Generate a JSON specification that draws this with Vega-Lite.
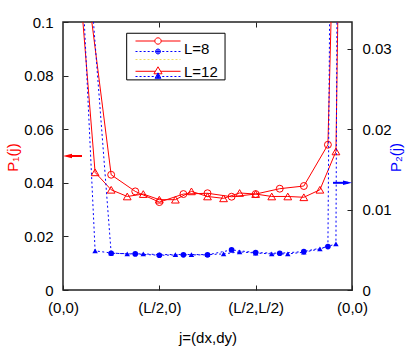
{
  "$schema": "https://vega.github.io/schema/vega-lite/v6.json",
  "width": 289,
  "height": 268,
  "autosize": {"type": "none"},
  "padding": {"left": 63, "top": 22, "right": 63, "bottom": 56},
  "background": "white",
  "config": {
    "view": {"stroke": "#222222", "strokeWidth": 1.5},
    "font": "Liberation Sans",
    "axis": {
      "labelFont": "Liberation Sans", "labelFontSize": 15, "labelColor": "black",
      "titleFont": "Liberation Sans", "titleFontSize": 15, "titleFontWeight": "normal",
      "domain": false, "grid": false, "tickColor": "#222222", "tickSize": 5, "tickWidth": 1, "offset": -5,
      "labelOverlap": false, "labelFlush": false, "labelBound": false
    },
    "legend": {
      "orient": "none", "symbolSize": 2025, "symbolStrokeWidth": 1, "clipHeight": 16,
      "labelFont": "Liberation Sans", "labelFontSize": 15, "labelColor": "black", "labelOffset": 3,
      "padding": 0, "symbolOpacity": 1
    }
  },
  "datasets": {
    "d": [
      {"L": "8", "x": 0, "p1": 0.41, "p2": 0.41},
      {"L": "8", "x": 0.25, "p1": 0.114, "p2": 0.0437},
      {"L": "8", "x": 0.5, "p1": 0.043, "p2": 0.00457},
      {"L": "8", "x": 0.75, "p1": 0.0368, "p2": 0.00449},
      {"L": "8", "x": 1.0, "p1": 0.0328, "p2": 0.00432},
      {"L": "8", "x": 1.25, "p1": 0.0358, "p2": 0.00437},
      {"L": "8", "x": 1.5, "p1": 0.0361, "p2": 0.00437},
      {"L": "8", "x": 1.75, "p1": 0.0348, "p2": 0.00499},
      {"L": "8", "x": 2.0, "p1": 0.0358, "p2": 0.00465},
      {"L": "8", "x": 2.25, "p1": 0.0378, "p2": 0.00457},
      {"L": "8", "x": 2.5, "p1": 0.0388, "p2": 0.00478},
      {"L": "8", "x": 2.75, "p1": 0.0542, "p2": 0.0054},
      {"L": "8", "x": 3.0, "p1": 0.41, "p2": 0.41},
      {"L": "12", "x": 0, "p1": 0.48, "p2": 0.45},
      {"L": "12", "x": 0.1667, "p1": 0.1178, "p2": 0.0472},
      {"L": "12", "x": 0.3333, "p1": 0.0439, "p2": 0.00487},
      {"L": "12", "x": 0.5, "p1": 0.0374, "p2": 0.0046},
      {"L": "12", "x": 0.6667, "p1": 0.0349, "p2": 0.00449},
      {"L": "12", "x": 0.8333, "p1": 0.0358, "p2": 0.00449},
      {"L": "12", "x": 1.0, "p1": 0.0337, "p2": 0.0044},
      {"L": "12", "x": 1.1667, "p1": 0.0337, "p2": 0.00441},
      {"L": "12", "x": 1.3333, "p1": 0.0368, "p2": 0.00441},
      {"L": "12", "x": 1.5, "p1": 0.0349, "p2": 0.0044},
      {"L": "12", "x": 1.6667, "p1": 0.0342, "p2": 0.00449},
      {"L": "12", "x": 1.8333, "p1": 0.0362, "p2": 0.00474},
      {"L": "12", "x": 2.0, "p1": 0.0358, "p2": 0.0046},
      {"L": "12", "x": 2.1667, "p1": 0.0349, "p2": 0.00449},
      {"L": "12", "x": 2.3333, "p1": 0.0349, "p2": 0.00449},
      {"L": "12", "x": 2.5, "p1": 0.0346, "p2": 0.0047},
      {"L": "12", "x": 2.6667, "p1": 0.0374, "p2": 0.00511},
      {"L": "12", "x": 2.8333, "p1": 0.0517, "p2": 0.00573},
      {"L": "12", "x": 3.0, "p1": 0.48, "p2": 0.45}
    ]
  },
  "data": {"name": "d"},
  "layer": [
    {
      "encoding": {
        "x": {
          "field": "x", "type": "quantitative",
          "scale": {"domain": [0, 3], "nice": false, "zero": false},
          "axis": {
            "values": [0, 1, 2, 3],
            "labelExpr": "datum.value == 0 || datum.value == 3 ? '(0,0)' : (datum.value == 1 ? '(L/2,0)' : '(L/2,L/2)')",
            "labelBaseline": "middle", "labelPadding": 17,
            "title": "j=(dx,dy)", "titleY": 52, "titleBaseline": "middle"
          }
        },
        "y": {
          "field": "p1", "type": "quantitative",
          "scale": {"domain": [0, 0.1], "nice": false, "zero": false},
          "axis": {
            "values": [0, 0.02, 0.04, 0.06, 0.08, 0.1], "format": "~g", "labelPadding": 10,
            "title": "P₁(j)", "titleColor": "red", "titleAngle": -90, "titleX": -56, "titleY": 135,
            "titleAlign": "center", "titleBaseline": "middle"
          }
        }
      },
      "layer": [
        {
          "mark": {"type": "line", "color": "red", "strokeWidth": 1, "clip": true},
          "encoding": {"detail": {"field": "L", "type": "nominal"}}
        },
        {
          "mark": {"type": "point", "filled": false, "color": "red", "strokeWidth": 1, "opacity": 1, "clip": true},
          "encoding": {
            "shape": {"field": "L", "type": "nominal", "scale": {"domain": ["8", "12"], "range": ["circle", "triangle-up"]}, "legend": null},
            "size": {"field": "L", "type": "nominal", "scale": {"domain": ["8", "12"], "range": [48, 60]}, "legend": null}
          }
        },
        {
          "transform": [{"filter": "datum.L == '8' && datum.x == 0"}],
          "mark": {"type": "rule", "color": "red", "strokeWidth": 2},
          "encoding": {
            "x": {"datum": 0.04},
            "x2": {"datum": 0.197},
            "y": {"datum": 0.05}
          }
        },
        {
          "transform": [{"filter": "datum.L == '8' && datum.x == 0"}],
          "mark": {"type": "point", "shape": "M-1,0L1,-0.5L1,0.5Z", "filled": true, "color": "red", "size": 81, "opacity": 1},
          "encoding": {
            "x": {"datum": 0.0467},
            "y": {"datum": 0.05}
          }
        },
        {
          "transform": [{"filter": "datum.L == '8' && datum.x == 0"}],
          "mark": {"type": "rect", "fill": "white", "stroke": "black", "strokeWidth": 1},
          "encoding": {
            "x": {"datum": 0.661},
            "x2": {"datum": 1.682},
            "y": {"datum": 0.0958},
            "y2": {"datum": 0.0784}
          }
        }
      ]
    },
    {
      "encoding": {
        "x": {"field": "x", "type": "quantitative", "axis": null},
        "y": {
          "field": "p2", "type": "quantitative",
          "scale": {"domain": [0, 0.033333], "nice": false, "zero": false},
          "axis": {
            "orient": "right", "values": [0, 0.01, 0.02, 0.03], "format": "~g", "labelPadding": 10,
            "title": "P₂(j)", "titleColor": "blue", "titleAngle": -90, "titleX": 48, "titleY": 135,
            "titleAlign": "center", "titleBaseline": "middle"
          }
        }
      },
      "layer": [
        {
          "mark": {"type": "line", "color": "blue", "strokeWidth": 1, "strokeDash": [2, 2.5], "clip": true},
          "encoding": {"detail": {"field": "L", "type": "nominal"}}
        },
        {
          "mark": {"type": "point", "filled": true, "color": "blue", "opacity": 1, "clip": true},
          "encoding": {
            "shape": {"field": "L", "type": "nominal", "scale": {"domain": ["8", "12"], "range": ["circle", "triangle-up"]}, "legend": null},
            "size": {"field": "L", "type": "nominal", "scale": {"domain": ["8", "12"], "range": [32, 30]}, "legend": null}
          }
        },
        {
          "transform": [{"filter": "datum.L == '8' && datum.x == 0"}],
          "mark": {"type": "rule", "color": "blue", "strokeWidth": 2},
          "encoding": {
            "x": {"datum": 2.803},
            "x2": {"datum": 2.96},
            "y": {"datum": 0.01333}
          }
        },
        {
          "transform": [{"filter": "datum.L == '8' && datum.x == 0"}],
          "mark": {"type": "point", "shape": "M1,0L-1,-0.5L-1,0.5Z", "filled": true, "color": "blue", "size": 81, "opacity": 1},
          "encoding": {
            "x": {"datum": 2.9533},
            "y": {"datum": 0.01333}
          }
        }
      ]
    },
    {
      "transform": [{"filter": "datum.L == '8' && datum.x == 0"}],
      "mark": {"type": "point", "opacity": 0},
      "encoding": {
        "x": {"field": "x", "type": "quantitative", "axis": {"orient": "top", "values": [1, 2], "labels": false, "title": null}}
      }
    },
    {
      "transform": [{"filter": "false"}],
      "mark": {"type": "point", "filled": false, "color": "red", "opacity": 1},
      "encoding": {
        "shape": {
          "field": "L", "type": "nominal",
          "scale": {
            "domain": ["8"],
            "range": ["M-1,-0.342H-0.142M0.142,-0.342H1M0.142,-0.342A0.142,0.142,0,1,1,-0.142,-0.342A0.142,0.142,0,1,1,0.142,-0.342Z"]
          },
          "legend": {
            "title": null, "legendX": 72, "legendY": 11.7, "clipHeight": 30,
            "labelExpr": "'L=' + datum.label",
            "symbolStrokeColor": "red", "symbolFillColor": "transparent"
          }
        }
      }
    },
    {
      "transform": [{"filter": "false"}],
      "mark": {"type": "point", "filled": false, "color": "red", "opacity": 1},
      "encoding": {
        "shape": {
          "field": "L", "type": "nominal",
          "scale": {
            "domain": ["12"],
            "range": ["M-1,-0.018H-0.12M0.12,-0.018H1M0,-0.218L0.18,0.092L-0.18,0.092Z"]
          },
          "legend": {
            "title": null, "legendX": 72, "legendY": 41.7,
            "labelExpr": "'L=' + datum.label",
            "symbolStrokeColor": "red", "symbolFillColor": "transparent"
          }
        }
      }
    },
    {
      "transform": [{"filter": "false"}],
      "mark": {"type": "point", "filled": false, "color": "blue", "opacity": 1},
      "encoding": {
        "shape": {
          "field": "L", "type": "nominal",
          "scale": {
            "domain": ["8", "12"],
            "range": [
              "M-1,0H-0.91M-0.82,0H-0.73M-0.64,0H-0.55M-0.46,0H-0.37M-0.28,0H-0.19M0.19,0H0.28M0.37,0H0.46M0.55,0H0.64M0.73,0H0.82M0.91,0H1M-0.11,0H0.11M0.11,0A0.11,0.11,0,1,1,-0.11,0A0.11,0.11,0,1,1,0.11,0M0.07,0A0.07,0.07,0,1,1,-0.07,0A0.07,0.07,0,1,1,0.07,0M0.03,0A0.03,0.03,0,1,1,-0.03,0A0.03,0.03,0,1,1,0.03,0",
              "M-1,0H-0.91M-0.82,0H-0.73M-0.64,0H-0.55M-0.46,0H-0.37M-0.28,0H-0.19M0.19,0H0.28M0.37,0H0.46M0.55,0H0.64M0.73,0H0.82M0.91,0H1M0,-0.16L0.13,0.08L-0.13,0.08ZM0,-0.096L0.078,0.048L-0.078,0.048ZM0,-0.04L0.033,0.02L-0.033,0.02ZM0,-0.16V0.08"
            ]
          },
          "legend": {
            "title": null, "legendX": 72, "legendY": 21.5, "rowPadding": 9,
            "labelExpr": "''",
            "symbolStrokeColor": "blue", "symbolFillColor": "blue"
          }
        }
      }
    },
    {
      "transform": [{"filter": "false"}],
      "mark": {"type": "point", "filled": false, "color": "#f0e060", "opacity": 1},
      "encoding": {
        "shape": {
          "field": "L", "type": "nominal",
          "scale": {"domain": ["8"], "range": ["M-1,0H1"]},
          "legend": {
            "title": null, "legendX": 72, "legendY": 29.5,
            "labelExpr": "''",
            "symbolStrokeColor": "#f0e060", "symbolFillColor": "transparent", "symbolDash": [2, 2]
          }
        }
      }
    }
  ],
  "resolve": {
    "scale": {"y": "independent", "shape": "independent", "size": "independent"},
    "axis": {"x": "independent"},
    "legend": {"shape": "independent"}
  }
}
